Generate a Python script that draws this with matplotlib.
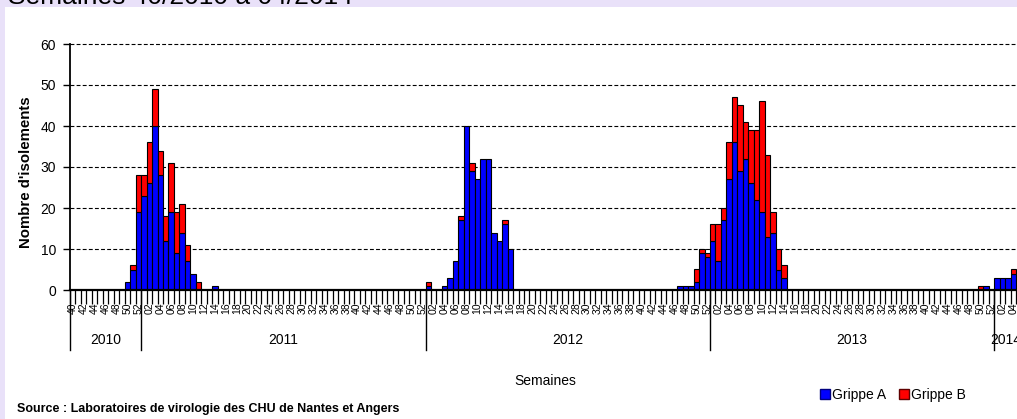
import matplotlib
matplotlib.use("Agg")
import matplotlib.pyplot as plt
from matplotlib.patches import Rectangle, Patch
import numpy as np

plt.rcParams['font.family'] = ['Liberation Sans', 'DejaVu Sans']

# ---------------- data ----------------
years = ["2010", "2011", "2012", "2013", "2014"]
weeks_per_year = [list(range(40, 53)), list(range(1, 53)), list(range(1, 53)),
                  list(range(1, 53)), list(range(1, 5))]

# Grippe A per week (2010 weeks 40-52, 2011-2013 weeks 1-52, 2014 weeks 1-4)
grippe_a_2010 = [0, 0, 0, 0, 0, 0, 0, 0, 0, 0, 2, 5, 19]
grippe_a_2011 = [23, 26, 40, 28, 12, 19, 9, 14, 7, 4, 0, 0, 0, 1, 0, 0, 0, 0, 0, 0,
                 0, 0, 0, 0, 0, 0, 0, 0, 0, 0, 0, 0, 0, 0, 0, 0, 0, 0, 0, 0,
                 0, 0, 0, 0, 0, 0, 0, 0, 0, 0, 0, 0]
grippe_a_2012 = [1, 0, 0, 1, 3, 7, 17, 40, 29, 27, 32, 32, 14, 12, 16, 10, 0, 0, 0, 0,
                 0, 0, 0, 0, 0, 0, 0, 0, 0, 0, 0, 0, 0, 0, 0, 0, 0, 0, 0, 0,
                 0, 0, 0, 0, 0, 0, 1, 1, 1, 2, 9, 8]
grippe_a_2013 = [12, 7, 17, 27, 36, 29, 32, 26, 22, 19, 13, 14, 5, 3, 0, 0, 0, 0, 0, 0,
                 0, 0, 0, 0, 0, 0, 0, 0, 0, 0, 0, 0, 0, 0, 0, 0, 0, 0, 0, 0,
                 0, 0, 0, 0, 0, 0, 0, 0, 0, 0, 1, 0]
grippe_a_2014 = [3, 3, 3, 4]

# Grippe B per week
grippe_b_2010 = [0, 0, 0, 0, 0, 0, 0, 0, 0, 0, 0, 1, 9]
grippe_b_2011 = [5, 10, 9, 6, 6, 12, 10, 7, 4, 0, 2, 0, 0, 0, 0, 0, 0, 0, 0, 0,
                 0, 0, 0, 0, 0, 0, 0, 0, 0, 0, 0, 0, 0, 0, 0, 0, 0, 0, 0, 0,
                 0, 0, 0, 0, 0, 0, 0, 0, 0, 0, 0, 0]
grippe_b_2012 = [1, 0, 0, 0, 0, 0, 1, 0, 2, 0, 0, 0, 0, 0, 1, 0, 0, 0, 0, 0,
                 0, 0, 0, 0, 0, 0, 0, 0, 0, 0, 0, 0, 0, 0, 0, 0, 0, 0, 0, 0,
                 0, 0, 0, 0, 0, 0, 0, 0, 0, 3, 1, 1]
grippe_b_2013 = [4, 9, 3, 9, 11, 16, 9, 13, 17, 27, 20, 5, 5, 3, 0, 0, 0, 0, 0, 0,
                 0, 0, 0, 0, 0, 0, 0, 0, 0, 0, 0, 0, 0, 0, 0, 0, 0, 0, 0, 0,
                 0, 0, 0, 0, 0, 0, 0, 0, 0, 1, 0, 0]
grippe_b_2014 = [0, 0, 0, 1]

yticks = [0, 10, 20, 30, 40, 50, 60]

# ---------------- assemble ----------------
grippe_a = np.array(grippe_a_2010 + grippe_a_2011 + grippe_a_2012 + grippe_a_2013 + grippe_a_2014)
grippe_b = np.array(grippe_b_2010 + grippe_b_2011 + grippe_b_2012 + grippe_b_2013 + grippe_b_2014)
week_labels = [f"{w:02d}" for ws in weeks_per_year for w in ws]
n = len(week_labels)
x = np.arange(n)

W, H = 1017, 419
fig = plt.figure(figsize=(W / 100, H / 100), dpi=100)
fig.patch.set_facecolor('#E9E1F9')
fig.add_artist(Rectangle((5 / W, 0), 1 - 5 / W, (H - 7.5) / H, transform=fig.transFigure,
                         facecolor='white', edgecolor='none', zorder=0))

fig.text(8 / W, 1 - 4 / H, "Semaines 40/2010 à 04/2014", fontsize=19, va='baseline',
         ha='left', color='black')

left, right, bottom, top = 70, 1017, 290, 44
ax = fig.add_axes([left / W, (H - bottom) / H, (right - left) / W, (bottom - top) / H])
ax.set_facecolor('none')
px_per_week = 5.47
ax.set_xlim(-0.5, (right - left) / px_per_week - 0.5)
ax.set_ylim(0, 60)

for yv in yticks[1:]:
    ax.axhline(yv, color='black', lw=0.8, ls=(0, (3.5, 2)), zorder=1, clip_on=False)

ma = grippe_a > 0
ax.bar(x[ma], grippe_a[ma], width=1.0, color='#0000FF', edgecolor='black', linewidth=0.8, zorder=3)
mb = grippe_b > 0
ax.bar(x[mb], grippe_b[mb], bottom=grippe_a[mb], width=1.0, color='#FF0000',
       edgecolor='black', linewidth=0.8, zorder=3)

for s in ['top', 'right']:
    ax.spines[s].set_visible(False)
ax.spines['left'].set_linewidth(1.3)
ax.spines['bottom'].set_linewidth(1.6)
ax.spines['left'].set_zorder(4)
ax.spines['bottom'].set_zorder(4)

ax.set_yticks(yticks)
ax.set_yticklabels([str(v) for v in yticks], fontsize=10)
ax.tick_params(axis='y', direction='out', length=5, width=1, pad=5)

ax.set_xticks(np.arange(-0.5, n, 1))
ax.set_xticklabels([])
ax.tick_params(axis='x', which='major', direction='out', length=10, width=0.9)
lab_idx = x[::2]
ax.set_xticks(lab_idx, minor=True)
ax.set_xticklabels([week_labels[i] for i in lab_idx], minor=True, rotation=90, fontsize=7.5)
ax.tick_params(axis='x', which='minor', length=0, pad=9)

# year separators and labels
bounds = [-0.5]
for ws in weeks_per_year:
    bounds.append(bounds[-1] + len(ws))
yfrac_sep = (bottom - 350) / (bottom - top)
yfrac_lab = (bottom - 340) / (bottom - top)
xmax = ax.get_xlim()[1]
for i, yr in enumerate(years):
    b0 = bounds[i]
    b1 = min(bounds[i + 1], xmax)
    ax.plot([b0, b0], [0, yfrac_sep], transform=ax.get_xaxis_transform(), color='black',
            lw=1.0, clip_on=False, zorder=4)
    ax.text((b0 + b1) / 2, yfrac_lab, yr, transform=ax.get_xaxis_transform(), ha='center',
            va='center', fontsize=10)

fig.text(26 / W, 1 - 172 / H, "Nombre d'isolements", rotation=90, fontsize=10.8,
         fontweight='bold', ha='center', va='center')
fig.text(545 / W, 1 - 381 / H, "Semaines", fontsize=10, ha='center', va='center')

handles = [Patch(facecolor='#0000FF', edgecolor='#000080', label='Grippe A'),
           Patch(facecolor='#FF0000', edgecolor='#600000', label='Grippe B')]
fig.legend(handles=handles, loc='center', bbox_to_anchor=(893 / W, 1 - 395 / H), ncol=2,
           frameon=False, fontsize=10, handlelength=0.75, handleheight=0.8,
           handletextpad=0.15, columnspacing=0.9, borderpad=0)

fig.text(17 / W, 1 - 409 / H, "Source : Laboratoires de virologie des CHU de Nantes et Angers",
         fontsize=9, fontweight='bold', ha='left', va='center')

fig.savefig("out.png", dpi=100, facecolor=fig.get_facecolor())
